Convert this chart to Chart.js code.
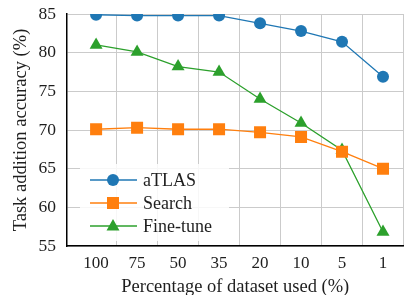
<!DOCTYPE html>
<html>
<head>
<meta charset="utf-8">
<script src="https://cdn.jsdelivr.net/npm/chart.js@4.4.1/dist/chart.umd.min.js"></script>
<style>
  html, body { margin: 0; padding: 0; background: #fff; }
  #wrap { width: 412px; height: 295px; position: relative; }
</style>
</head>
<body>
<div id="wrap"><canvas id="chart"></canvas></div>
<script>
// Data
const percentLabels = ['100', '75', '50', '35', '20', '10', '5', '1'];
const atlasAcc    = [84.9, 84.8, 84.8, 84.8, 83.8, 82.8, 81.4, 76.9];
const searchAcc   = [70.1, 70.3, 70.1, 70.1, 69.7, 69.1, 67.2, 65.0];
const finetuneAcc = [81.0, 80.1, 78.2, 77.5, 74.0, 70.9, 67.4, 56.8];
const yTicks = [55, 60, 65, 70, 75, 80, 85];

const BLUE = '#1f77b4', ORANGE = '#ff7f0e', GREEN = '#2ca02c';
const FONT = '"Liberation Serif", "DejaVu Serif", serif';
const TEXT = '#1e1e1e';

const pts = arr => arr.map((v, i) => ({ x: i, y: v }));

const series = [
  { label: 'aTLAS',     data: atlasAcc,    color: BLUE,   style: 'circle',   r: 6 },
  { label: 'Search',    data: searchAcc,   color: ORANGE, style: 'rect',     r: 8.5 },
  { label: 'Fine-tune', data: finetuneAcc, color: GREEN,  style: 'triangle', r: 7.5 },
];

// Legend box inside the plot, bottom left
const legendInside = {
  id: 'legendInside',
  afterDraw(chart) {
    const ctx = chart.ctx;
    ctx.save();
    ctx.fillStyle = 'rgba(255,255,255,0.85)';
    ctx.beginPath();
    ctx.roundRect(80, 164, 149, 77, 3);
    ctx.fill();
    ctx.font = '18px ' + FONT;
    ctx.textBaseline = 'middle';
    series.forEach((s, i) => {
      const y = 180 + i * 23;
      ctx.strokeStyle = s.color;
      ctx.lineWidth = 1.5;
      ctx.beginPath();
      ctx.moveTo(90, y);
      ctx.lineTo(137, y);
      ctx.stroke();
      ctx.fillStyle = s.color;
      ctx.beginPath();
      if (s.style === 'circle') {
        ctx.arc(113, y, 6, 0, Math.PI * 2);
      } else if (s.style === 'rect') {
        ctx.rect(107, y - 6, 12, 12);
      } else {
        ctx.moveTo(113, y - 7);
        ctx.lineTo(119.5, y + 4.5);
        ctx.lineTo(106.5, y + 4.5);
        ctx.closePath();
      }
      ctx.fill();
      ctx.fillStyle = TEXT;
      ctx.fillText(s.label, 143, y + 1);
    });
    ctx.restore();
  }
};

new Chart(document.getElementById('chart'), {
  type: 'line',
  data: {
    datasets: series.map(s => ({
      label: s.label,
      data: pts(s.data),
      borderColor: s.color,
      backgroundColor: s.color,
      borderWidth: 1.3,
      pointStyle: s.style,
      pointRadius: s.r,
      pointBorderWidth: 0,
      pointBackgroundColor: s.color,
      tension: 0,
    }))
  },
  options: {
    responsive: true,
    maintainAspectRatio: false,
    animation: false,
    layout: { padding: { top: 14, right: 0, left: 0, bottom: 0 } },
    plugins: {
      legend: { display: false },
      tooltip: { enabled: false },
    },
    scales: {
      x: {
        type: 'linear',
        min: -0.71,
        max: 7.5,
        afterBuildTicks: axis => { axis.ticks = percentLabels.map((_, i) => ({ value: i })); },
        afterFit: axis => { axis.height = 49; axis.paddingLeft = 0; axis.paddingRight = 0; },
        ticks: {
          callback: v => percentLabels[v],
          color: TEXT,
          font: { family: FONT, size: 17 },
          padding: 7,
          maxRotation: 0,
          autoSkip: false,
        },
        grid: {
          offset: true,
          drawTicks: false,
          color: c => (c.index === 0 ? 'rgba(0,0,0,0)' : '#cbcbcb'),
          lineWidth: 1,
        },
        border: { color: '#000', width: 1.5 },
        title: {
          display: true,
          text: 'Percentage of dataset used (%)',
          color: TEXT,
          font: { family: FONT, size: 18.5, lineHeight: 1 },
          padding: { top: 0, bottom: -1 },
        },
      },
      y: {
        min: 55,
        max: 85,
        afterBuildTicks: axis => { axis.ticks = yTicks.map(v => ({ value: v })); },
        afterFit: axis => { axis.width = 67; axis.paddingTop = 0; axis.paddingBottom = 0; },
        ticks: {
          color: TEXT,
          font: { family: FONT, size: 17.5 },
          padding: 11,
        },
        grid: { drawTicks: false, color: '#cbcbcb', lineWidth: 1 },
        border: { color: '#000', width: 1.5 },
        title: {
          display: true,
          text: 'Task addition accuracy (%)',
          color: TEXT,
          font: { family: FONT, size: 18.5, lineHeight: 1 },
          padding: { top: 12, bottom: 0 },
        },
      },
    },
  },
  plugins: [legendInside],
});
</script>
</body>
</html>
